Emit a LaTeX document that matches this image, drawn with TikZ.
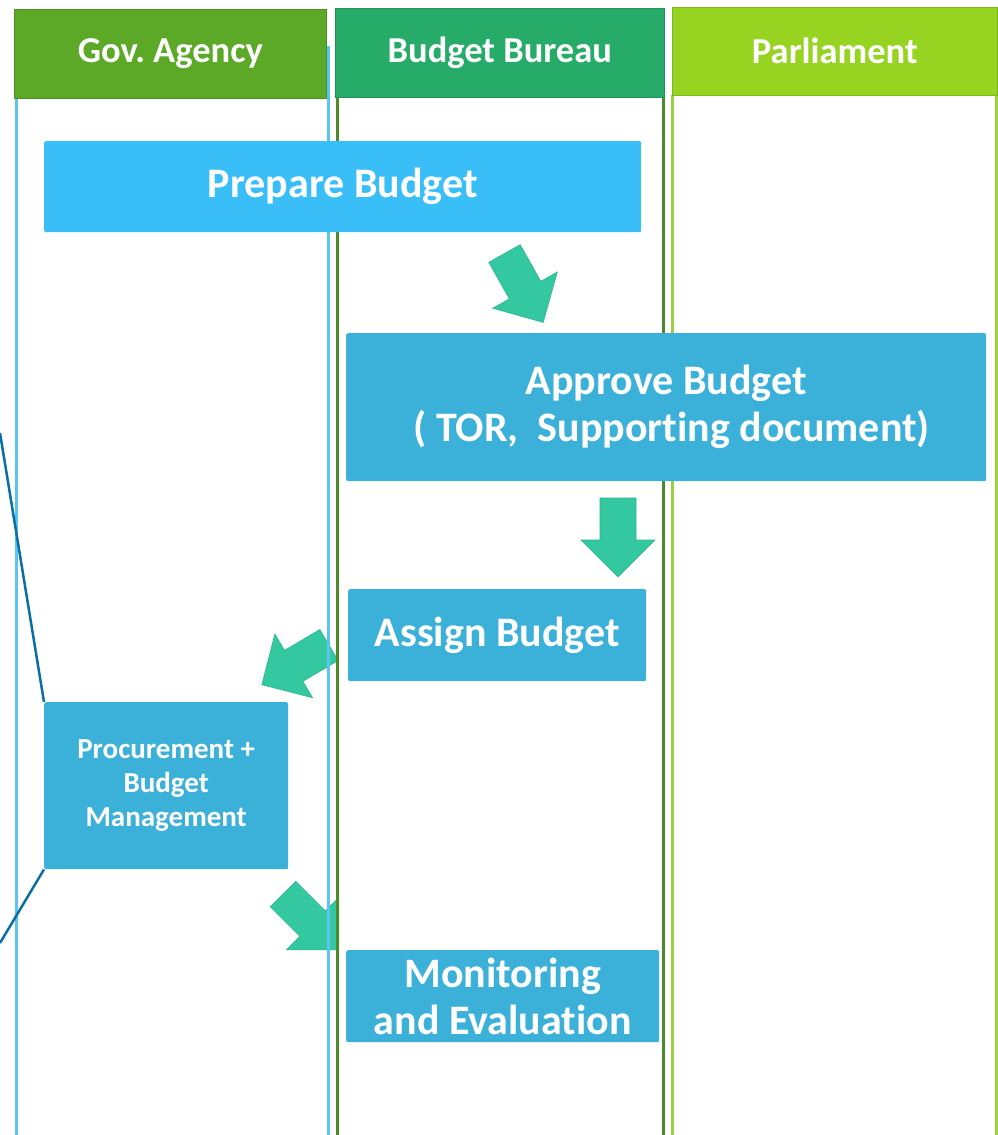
\documentclass[tikz,border=0pt]{standalone}
\usepackage{fontspec}
\setmainfont{Carlito}[Ligatures=NoCommon]
\frenchspacing
\definecolor{govc}{HTML}{5CA827}
\definecolor{burc}{HTML}{26AB69}
\definecolor{parc}{HTML}{97D422}
\definecolor{govl}{HTML}{5BC5F2}
\definecolor{burl}{HTML}{4C8A2C}
\definecolor{parl}{HTML}{9ED13F}
\definecolor{prepc}{HTML}{3ABEF8}
\definecolor{boxc}{HTML}{3BB0D8}
\definecolor{arrc}{HTML}{33C8A0}
\definecolor{arre}{HTML}{2BB592}
\definecolor{linkc}{HTML}{0B6FA4}
\tikzset{
  header/.style={fill=#1, draw=#1!85!black, line width=0.6pt, text=white,
    font=\fontsize{36.5}{40}\selectfont\bfseries, anchor=north west, inner sep=0pt},
  stepbox/.style={fill=boxc, rounded corners=2pt, text=white,
    font=\fontsize{42}{47}\selectfont\bfseries, anchor=north west, inner sep=0pt, align=center},
  smallbox/.style={stepbox, font=\fontsize{29}{34}\selectfont\bfseries},
  lane/.style={line width=3pt},
  link/.style={draw=linkc, line width=2.5pt},
  blockarrowfill/.style={fill=arrc, draw=arre, line width=0.6pt, line join=miter},
}
\newcommand\blockarr[4]{%
  \begin{scope}[shift={(#1,#2)},rotate=#3]
    \path[blockarrowfill] (0,-18) -- (#4-37,-18) -- (#4-37,-37) -- (#4,0) -- (#4-37,37) -- (#4-37,18) -- (0,18) -- cycle;
  \end{scope}}
\begin{document}
\begin{tikzpicture}[x=1pt,y=-1pt]
  \useasboundingbox (0,0) rectangle (998,1135);
  \fill[white] (0,0) rectangle (998,1135);
  % block arrows
  \blockarr{504.5}{253.5}{-60.7}{79}
  \blockarr{618}{498}{-90}{79}
  \blockarr{329}{645}{210.6}{78}
  \blockarr{283}{894}{-45}{79}
  % lanes
  \draw[lane, govl] (16,98) -- (16,1135);
  \draw[lane, govl] (328,46) -- (328,1135);
  \draw[lane, burl] (337,97) -- (337,1135);
  \draw[lane, burl] (663,47) -- (663,1135);
  \draw[lane, parl] (672,95) -- (672,1135);
  \draw[lane, parl] (996,95) -- (996,1135);
  % headers
  \node[header=govc, minimum width=312pt, minimum height=89pt] (gov) at (14,9) {Gov. Agency};
  \node[header=burc, minimum width=329pt, minimum height=89pt] (bur) at (335,8) {Budget Bureau};
  \node[header=parc, minimum width=325pt, minimum height=88pt] (par) at (672,7) {Parliament};
  % boxes
  \node[stepbox, fill=prepc, minimum width=597pt, minimum height=91pt] (prep) at (44,141) {Prepare Budget};
  \node[stepbox, minimum width=640pt, minimum height=148pt] (appr) at (346,333) {Approve Budget\\\hspace*{11pt}( TOR,\ \ Supporting document)};
  \node[stepbox, minimum width=298pt, minimum height=92pt] (assign) at (348,589) {Assign Budget};
  \node[smallbox, minimum width=244pt, minimum height=167pt] (proc) at (44,702) {Procurement +\\Budget\\Management};
  \node[stepbox, minimum width=313pt, minimum height=92pt] (mon) at (346,950) {Monitoring\\and Evaluation};
  % links
  \coordinate (l1) at (0,433);
  \coordinate (l2) at (0,943);
  \draw[link] (l1) -- (proc.north west);
  \draw[link] (proc.south west) -- (l2);
\end{tikzpicture}
\end{document}
